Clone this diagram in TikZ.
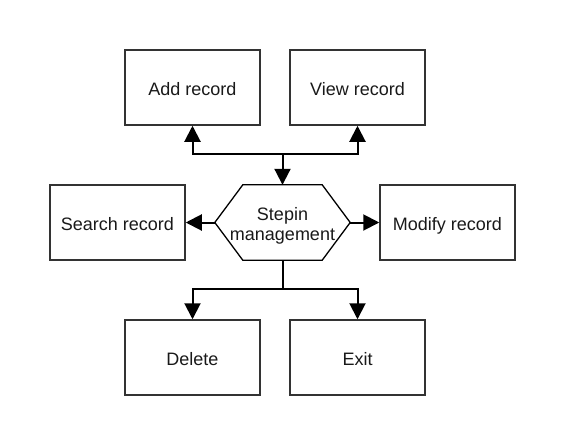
\documentclass[tikz,border=0pt]{standalone}
\usepackage{fontspec}
\setmainfont{Liberation Sans}
\usetikzlibrary{arrows.meta}
\begin{document}
\begin{tikzpicture}[x=1pt,y=-1pt,
  box/.style={draw=black!80,line width=1.5pt,minimum width=135pt,minimum height=75pt,inner sep=0pt,font=\fontsize{18}{20}\selectfont,text=black!90,text height=15.5pt,text depth=0pt},
  hexn/.style={minimum width=135pt,minimum height=75pt,inner sep=0pt},
  hextext/.style={inner sep=0pt,align=center,font=\fontsize{18}{20}\selectfont,text=black!90},
  hexline/.style={draw=black,line width=1.3pt,line join=miter},
  arr/.style={line width=2pt,black,-{Triangle[length=16pt,width=16pt]}},
  conn/.style={line width=2pt,black}]
\useasboundingbox (0,0) rectangle (565,445);
\node[box] (add) at (192.5,87.5) {Add record};
\node[box] (view) at (357.5,87.5) {View record};
\node[box] (search) at (117.5,222.5) {Search record};
\node[box] (modify) at (447.5,222.5) {Modify record};
\node[box] (delete) at (192.5,357.5) {Delete};
\node[box] (exit) at (357.5,357.5) {Exit};
\node[hexn] (hex) at (282.5,222.5) {};
\node[hextext] (hexlabel) at ([yshift=-3.5pt]hex.center) {Stepin\\management};
\draw[hexline] (hex.west) -- ([xshift=28pt]hex.north west) -- ([xshift=-28pt]hex.north east) -- (hex.east) -- ([xshift=-28pt]hex.south east) -- ([xshift=28pt]hex.south west) -- cycle;
\coordinate (j1) at (282.5,154);
\coordinate (j2) at (282.5,289);
\draw[arr] (j1) -- (hex.north);
\draw[arr] (j1) -| (add.south);
\draw[arr] (j1) -| (view.south);
\draw[arr] (hex.west) -- (search.east);
\draw[arr] (hex.east) -- (modify.west);
\draw[conn] (hex.south) -- (j2);
\draw[arr] (j2) -| (delete.north);
\draw[arr] (j2) -| (exit.north);
\end{tikzpicture}
\end{document}
